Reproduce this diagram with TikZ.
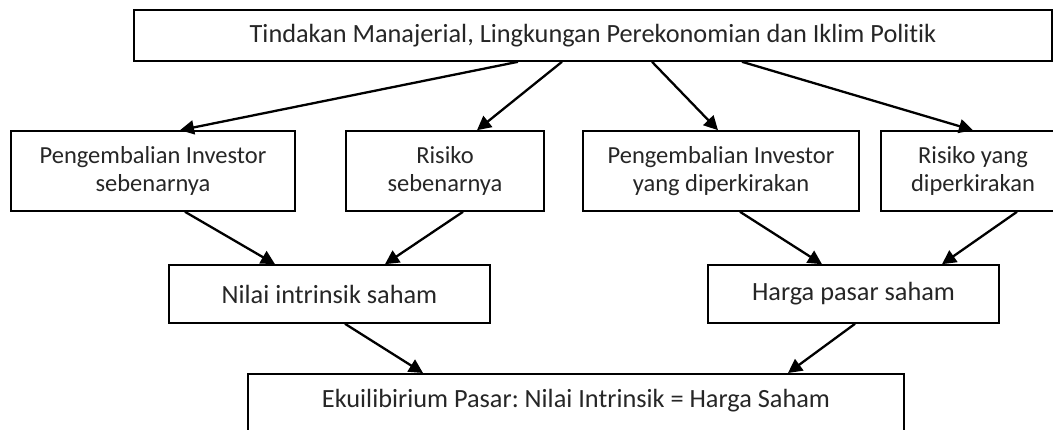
\documentclass[tikz,border=0pt]{standalone}
\usepackage{fontspec}
\setmainfont[Ligatures=NoCommon]{Carlito}
\usetikzlibrary{arrows.meta}
\frenchspacing
\begin{document}
\begin{tikzpicture}[x=1pt,y=-1pt,
  box/.style={draw=black, line width=1.6pt, inner sep=0pt, align=center,
    text=black!85, font=\fontsize{26.3}{28}\selectfont},
  twoline/.style={box, font=\fontsize{24.5}{27.5}\selectfont},
  plain/.style={inner sep=0pt, text=black!85, font=\fontsize{26.3}{28}\selectfont},
  link/.style={line width=2.3pt, -{Triangle[length=14pt,width=14pt]}}]
\useasboundingbox (0,0) rectangle (1053,430);

% top level
\node[box, minimum width=918pt, minimum height=51pt] (top) at (593,35.5)
  {Tindakan Manajerial, Lingkungan Perekonomian dan Iklim Politik};

% second level
\node[twoline, minimum width=284pt, minimum height=80pt] (ra) at (153,171)
  {Pengembalian Investor\\sebenarnya};
\node[twoline, minimum width=198pt, minimum height=80pt] (rs) at (445,171)
  {Risiko\\sebenarnya};
\node[twoline, minimum width=276pt, minimum height=80pt] (re) at (721,171)
  {Pengembalian Investor\\yang diperkirakan};
\node[twoline, minimum width=184pt, minimum height=80pt] (rk) at (973,171)
  {Risiko yang\\diperkirakan};

% third level
\node[box, minimum width=321pt, minimum height=58pt] (ni) at (329.5,294)
  {Nilai intrinsik saham};
\node[box, minimum width=291pt, minimum height=58pt] (hp) at (853.5,294)
  {Harga pasar saham};

% equilibrium
\node[box, minimum width=656pt, minimum height=90pt, anchor=north] (eq) at (576,373) {};
\node[plain, anchor=base] (eqtext) at (576,407)
  {Ekuilibirium Pasar: Nilai Intrinsik = Harga Saham};

% connectors
\draw[link] ([xshift=-75pt]top.south) -- ([xshift=27pt]ra.north);
\draw[link] ([xshift=-31pt]top.south) -- ([xshift=32pt]rs.north);
\draw[link] ([xshift=59pt]top.south) -- ([xshift=-3pt]re.north);
\draw[link] ([xshift=149pt]top.south) -- (rk.north);

\draw[link] ([xshift=32pt]ra.south) -- ([xshift=-54.5pt]ni.north);
\draw[link] ([xshift=18pt]rs.south) -- ([xshift=55.5pt]ni.north);
\draw[link] ([xshift=19pt]re.south) -- ([xshift=-31.5pt]hp.north);
\draw[link] ([xshift=44pt]rk.south) -- ([xshift=88.5pt]hp.north);

\draw[link] ([xshift=15.5pt]ni.south) -- ([xshift=-153pt]eq.north);
\draw[link] ([xshift=1.5pt]hp.south) -- ([xshift=212pt]eq.north);
\end{tikzpicture}
\end{document}
